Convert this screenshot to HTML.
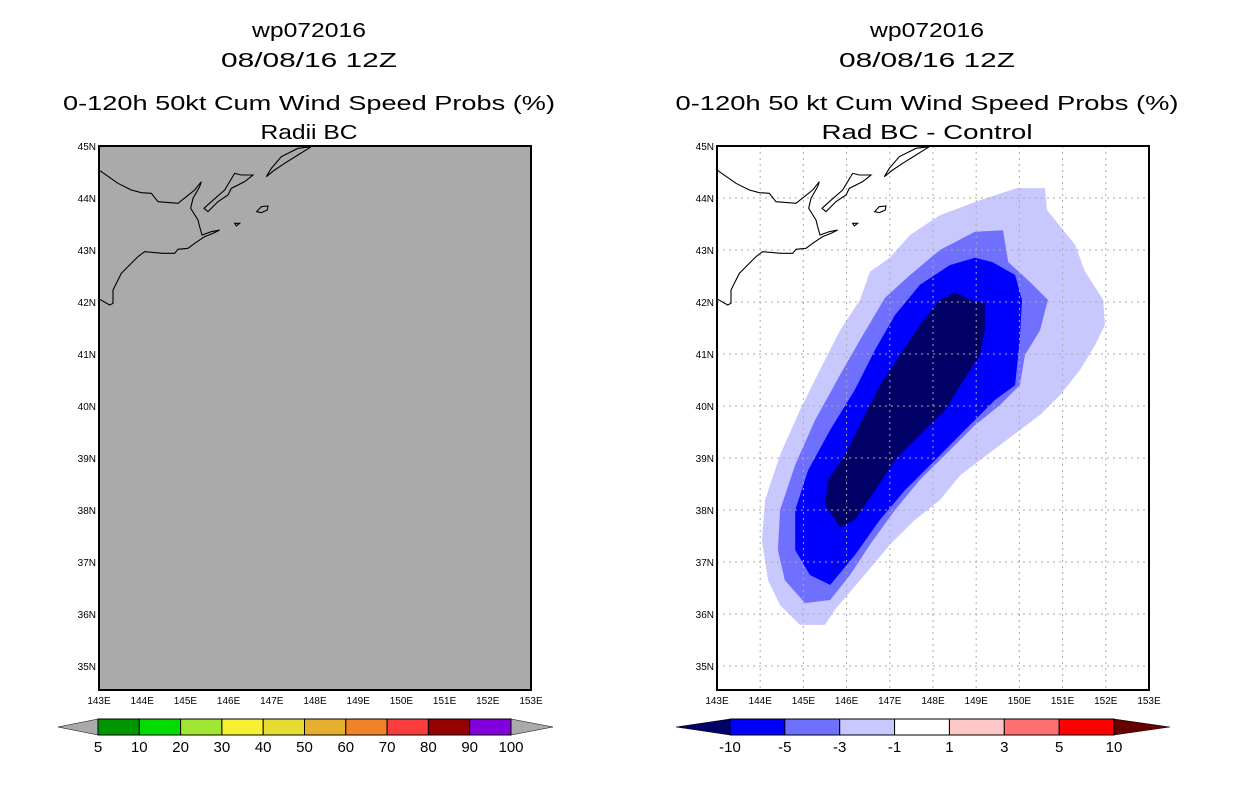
<!DOCTYPE html>
<html><head><meta charset="utf-8"><style>
body{margin:0;background:#fff;width:1236px;height:800px;overflow:hidden}
svg text{font-family:"Liberation Sans",sans-serif}
</style></head><body>
<svg id="s" width="1236" height="800">
<g id="titles" fill="#000" font-size="20" text-anchor="middle">
<text x="309" y="37" textLength="114" lengthAdjust="spacingAndGlyphs">wp072016</text>
<text x="309" y="67" textLength="176" lengthAdjust="spacingAndGlyphs">08/08/16 12Z</text>
<text x="309" y="110" textLength="492" lengthAdjust="spacingAndGlyphs">0-120h 50kt Cum Wind Speed Probs (%)</text>
<text x="309" y="139" textLength="97" lengthAdjust="spacingAndGlyphs">Radii BC</text>
<text x="927" y="37" textLength="114" lengthAdjust="spacingAndGlyphs">wp072016</text>
<text x="927" y="67" textLength="176" lengthAdjust="spacingAndGlyphs">08/08/16 12Z</text>
<text x="927" y="110" textLength="503" lengthAdjust="spacingAndGlyphs">0-120h 50 kt Cum Wind Speed Probs (%)</text>
<text x="927" y="139" textLength="211" lengthAdjust="spacingAndGlyphs">Rad BC - Control</text>
</g>
</svg>
<script>
const lonTicks=[143,144,145,146,147,148,149,150,151,152,153];
const latTicks=[35,36,37,38,39,40,41,42,43,44,45];
const leftLevels=["5","10","20","30","40","50","60","70","80","90","100"];
const leftColors=["#009600","#00dc00","#a0e632","#f5f032","#e6dc32","#e6af2d","#f08228","#fa3c3c","#960000","#8200dc"];
const rightLevels=["-10","-5","-3","-1","1","3","5","10"];
const rightColors=["#0000ff","#7070ff","#c8c8ff","#ffffff","#ffc8c8","#ff7070","#ff0000"];
// difference contours (lon, lat)
const c1Lon=[149.94,150.59,150.64,151.29,151.52,151.94,151.98,151.75,151.40,150.94,150.48,149.55,148.63,148.16,147.58,147.00,146.31,145.73,145.50,144.92,144.46,144.18,144.04,144.11,144.46,144.92,145.38,145.85,146.31,146.54,147.00,147.47,148.16,149.09];
const c1Lat=[44.19,44.19,43.77,43.10,42.58,42.04,41.56,41.17,40.69,40.21,39.83,39.25,38.67,38.19,37.81,37.33,36.65,36.08,35.79,35.79,36.17,36.65,37.42,38.19,39.06,39.92,40.69,41.46,42.04,42.58,42.85,43.29,43.67,43.96];
const c3Lon=[148.97,149.62,149.74,150.25,150.66,150.48,150.13,150.01,149.55,148.97,148.39,147.70,147.12,146.54,146.08,145.62,145.04,144.57,144.41,144.46,144.81,145.27,145.85,146.31,146.89,147.47,148.16];
const c3Lat=[43.35,43.38,42.77,42.38,42.04,41.46,40.98,40.40,40.02,39.63,39.15,38.58,38.00,37.33,36.75,36.27,36.21,36.65,37.23,38.00,38.87,39.73,40.60,41.27,42.08,42.52,43.00];
const c5Lon=[148.97,149.37,149.90,150.06,150.01,149.90,149.44,148.74,148.05,147.35,146.77,146.19,145.62,145.15,144.81,144.81,145.11,145.62,146.19,146.66,147.12,147.70,148.39];
const c5Lat=[42.85,42.77,42.52,42.04,41.27,40.40,40.12,39.54,38.96,38.38,37.81,37.13,36.56,36.75,37.23,38.00,38.77,39.54,40.31,41.08,41.75,42.33,42.71];
const c10Lon=[148.51,148.86,149.20,149.20,149.09,148.63,148.28,147.58,147.12,146.66,146.19,145.85,145.50,145.57,145.96,146.36,146.77,147.24,147.70,148.16];
const c10Lat=[42.19,42.04,41.98,41.46,40.98,40.40,39.92,39.35,38.96,38.38,37.81,37.67,38.10,38.58,39.06,39.73,40.40,40.98,41.56,42.04];
const contours=[[c1Lon,c1Lat,"#c8c8ff","contour-minus1"],[c3Lon,c3Lat,"#7070ff","contour-minus3"],[c5Lon,c5Lat,"#0000ff","contour-minus5"],[c10Lon,c10Lat,"#000066","contour-minus10"]];

const NS="http://www.w3.org/2000/svg",svg=document.getElementById('s');
function mk(t,a,p){const e=document.createElementNS(NS,t);for(const k in a)e.setAttribute(k,a[k]);(p||svg).appendChild(e);return e;}
const W=432,H=544,T=146;
function xs(x0){return lon=>x0+(lon-143)*43.2;}
function ys(lat){return T+(45-lat)*52;}
const coastD="M0,88 L60,130 L100,150 L130,158 L160,160 L180,185 L240,190 L265,170 L290,150 L310,125 L305,140 L285,175 L278,205 L300,240 L305,260 L312,285 L340,275 L365,270 L345,280 L320,290 L290,310 L270,325 L240,328 L230,340 L195,340 L140,335 L120,350 L70,400 L45,450 L45,490 L35,495 L0,475 M318,205 L340,185 L380,150 L410,100 L430,105 L465,105 L440,125 L400,145 L390,165 L360,185 L330,215 Z M505,110 L520,85 L550,50 L600,25 L640,20 L600,45 L560,70 L530,90 Z M476,215 L490,200 L510,198 L508,210 L490,218 Z M410,250 L425,250 L415,258 Z";

function panel(x0,side){
  const X=xs(x0);
  const g=mk('g',{});
  
  
  const bg=mk('rect',{x:x0,y:T,width:W,height:H,fill:side==='left'?'#aaaaaa':'#fff'},g);
  
  
  if(side==='right'){
    const clip=mk('clipPath',{id:'cl'},g);mk('rect',{x:x0,y:T,width:W,height:H},clip);
    const cg=mk('g',{'clip-path':'url(#cl)'},g);
    contours.forEach(c=>{
      const pts=c[0].map((lo,i)=>X(lo).toFixed(1)+','+ys(c[1][i]).toFixed(1)).join(' ');
      const p=mk('polygon',{points:pts,fill:c[2]},cg);
      
      
    });
    lonTicks.slice(1,-1).forEach(l=>mk('line',{x1:X(l),x2:X(l),y1:T,y2:T+H,stroke:'#aaa','stroke-dasharray':'2,4'},g));
    latTicks.slice(0,-1).forEach(l=>mk('line',{x1:x0,x2:x0+W,y1:ys(l),y2:ys(l),stroke:'#aaa','stroke-dasharray':'2,4'},g));
  }
  const cp=mk('path',{d:coastD,fill:'none',stroke:'#000','stroke-width':3.3,transform:`translate(${x0-1},140) scale(0.3333)`},g);
  
  
  mk('rect',{x:x0,y:T,width:W,height:H,fill:'none',stroke:'#000','stroke-width':2},g);
  lonTicks.forEach(l=>{
    const t=mk('text',{x:X(l),y:704,'font-size':10,'text-anchor':'middle'},g);t.textContent=l+'E';
    
    
  });
  latTicks.forEach(l=>{
    const t=mk('text',{x:x0-3,y:ys(l)+4,'font-size':10,'text-anchor':'end'},g);t.textContent=l+'N';
    
    
  });
}
panel(99,'left');panel(717,'right');

function colorbar(x0,x1,tipL,tipR,colors,levels,leftTip,rightTip,name){
  const g=mk('g',{});
  
  
  const y0=719,y1=735,ym=727,w=(x1-x0)/colors.length;
  mk('polygon',{points:`${tipL},${ym} ${x0},${y0} ${x0},${y1}`,fill:leftTip,stroke:'#000','stroke-width':0.5},g);
  mk('polygon',{points:`${tipR},${ym} ${x1},${y0} ${x1},${y1}`,fill:rightTip,stroke:'#000','stroke-width':0.5},g);
  colors.forEach((c,i)=>{
    const r=mk('rect',{x:x0+i*w,y:y0,width:w,height:y1-y0,fill:c,stroke:'#000','stroke-width':1},g);
    
    
  });
  levels.forEach((l,i)=>{
    const t=mk('text',{x:x0+i*w,y:752,'font-size':15,'text-anchor':'middle'},g);t.textContent=l;
    
    
  });
}
colorbar(98,511,58,553,leftColors,leftLevels,'#aaaaaa','#aaaaaa','left-colorbar');
colorbar(730,1114,676,1170,rightColors,rightLevels,'#000066','#660000','right-colorbar');
</script>
</body></html>
